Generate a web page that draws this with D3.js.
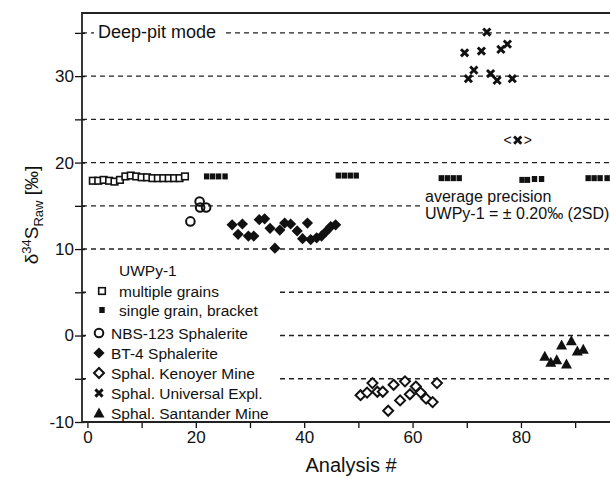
<!DOCTYPE html>
<html>
<head>
<meta charset="utf-8">
<script src="https://d3js.org/d3.v7.min.js"></script>
<style>
  body { margin: 0; background: #fff; }
  svg { font-family: "Liberation Sans", Arial, sans-serif; display: block; }
</style>
</head>
<body>
<svg width="610" height="477"></svg>
<script>
// UWPy-1 multiple grains (open squares)
var multiX = [1, 2, 3, 4, 5, 6, 7, 8, 9, 10, 11, 12, 13, 14, 15, 16, 17, 18];
var multiY = [17.9, 17.9, 18.0, 17.9, 17.8, 18.0, 18.4, 18.5, 18.4, 18.3, 18.3, 18.2, 18.2, 18.2, 18.2, 18.2, 18.2, 18.4];
// UWPy-1 single grain, bracket (filled squares)
var brackX = [22, 23.1, 24.2, 25.4, 46.3, 47.4, 48.5, 49.6, 65.3, 66.4, 67.5, 68.6, 80.2, 81.2, 82.5, 83.8, 92.4, 93.5, 94.6, 95.9];
var brackY = [18.4, 18.4, 18.4, 18.4, 18.5, 18.5, 18.5, 18.5, 18.2, 18.2, 18.2, 18.2, 18.0, 18.0, 18.1, 18.1, 18.2, 18.2, 18.2, 18.2];
// NBS-123 Sphalerite (open circles)
var nbsX = [19.0, 20.7, 20.8, 21.9];
var nbsY = [13.2, 15.5, 14.8, 14.8];
// BT-4 Sphalerite (filled diamonds)
var btX = [26.7, 28.6, 27.8, 29.7, 30.7, 31.7, 32.7, 33.7, 34.6, 35.5, 36.4, 37.5, 38.7, 39.7, 40.6, 41.2, 42.3, 43.2, 44.0, 44.9, 45.8];
var btY = [12.8, 12.9, 11.7, 11.5, 11.5, 13.4, 13.5, 12.4, 10.1, 12.2, 13.0, 12.9, 12.1, 11.2, 13.0, 11.1, 11.3, 11.5, 12.0, 12.6, 12.8];
// Sphal. Kenoyer Mine (open diamonds)
var kenX = [50.4, 51.6, 52.6, 53.5, 54.5, 55.5, 56.5, 57.7, 58.6, 59.5, 60.6, 61.5, 62.5, 63.7, 64.5];
var kenY = [-6.9, -6.6, -5.5, -6.5, -6.5, -8.7, -5.7, -7.5, -5.3, -6.8, -5.9, -6.6, -7.3, -7.7, -5.5];
// Sphal. Universal Expl. (crosses)
var uniX = [69.6, 70.3, 71.3, 72.7, 73.7, 74.4, 75.6, 76.3, 77.5, 78.4];
var uniY = [32.7, 29.7, 30.7, 32.9, 35.1, 30.3, 29.5, 33.1, 33.7, 29.7];
var uniMean = [79.4, 22.6];
// Sphal. Santander Mine (filled triangles)
var sanX = [84.4, 85.5, 86.6, 87.5, 88.4, 89.3, 90.4, 91.5];
var sanY = [-2.4, -3.1, -2.8, -1.1, -3.3, -0.6, -1.8, -1.6];

var xTicks = [0, 10, 20, 30, 40, 50, 60, 70, 80, 90];
var xLabels = [0, 20, 40, 60, 80];
var yTicks = [-10, -5, 0, 5, 10, 15, 20, 25, 30, 35];
var yLabels = [-10, 0, 10, 20, 30];
var gridVals = [-5, 0, 5, 10, 15, 20, 25, 30, 35];
var legendItems = ["multiple grains", "single grain, bracket", "NBS-123 Sphalerite", "BT-4 Sphalerite",
  "Sphal. Kenoyer Mine", "Sphal. Universal Expl.", "Sphal. Santander Mine"];
var legendShapes = ["sq", "sqf", "circ", "dia", "diao", "x", "tri"];

var plotL = 82, plotR = 612, plotT = 13, plotB = 422;
var ink = "#111";

var svg = d3.select("svg");
var x = d3.scaleLinear().domain([-1, 96.8]).range([plotL, plotR]);
var y = d3.scaleLinear().domain([-10, 37.3]).range([plotB, plotT]);

// dashed guide lines
svg.append("g").selectAll("line").data(gridVals).enter().append("line")
  .attr("x1", plotL).attr("x2", plotR)
  .attr("y1", function(d) { return y(d); }).attr("y2", function(d) { return y(d); })
  .attr("stroke", "#222").attr("stroke-width", 1.4).attr("stroke-dasharray", "5,4");

// axes
svg.append("g").attr("transform", "translate(0," + plotB + ")")
  .call(d3.axisBottom(x).tickValues(xTicks).tickSize(6).tickFormat(function(d) { return xLabels.indexOf(d) >= 0 ? d : ""; }))
  .call(function(g) {
    g.select(".domain").remove();
    g.selectAll("line").attr("stroke", ink).attr("stroke-width", 1.3);
    g.selectAll("text").attr("fill", ink).style("font-size", "17px").attr("y", 7).attr("dy", "0.85em");
  });
svg.append("g").attr("transform", "translate(" + plotL + ",0)")
  .call(d3.axisLeft(y).tickValues(yTicks).tickSize(6).tickFormat(function(d) { return yLabels.indexOf(d) >= 0 ? d : ""; }))
  .call(function(g) {
    g.select(".domain").remove();
    g.selectAll("line").attr("x2", -7).attr("x1", 3).attr("stroke", ink).attr("stroke-width", 1.3);
    g.selectAll("text").attr("fill", ink).style("font-size", "17px").attr("x", -8);
  });

// frame
svg.append("path")
  .attr("d", "M" + plotR + "," + plotT + "H" + plotL + "V" + plotB + "H" + plotR)
  .attr("fill", "none").attr("stroke", "#222").attr("stroke-width", 1.8);

// text boxes over dashed lines
svg.append("rect").attr("x", 94).attr("y", 23).attr("width", 128).attr("height", 19).attr("fill", "#fff");
svg.append("text").attr("x", 98).attr("y", 38).attr("fill", ink).style("font-size", "18px").text("Deep-pit mode");

svg.append("rect").attr("x", 421).attr("y", 187).attr("width", 189).attr("height", 34).attr("fill", "#fff");
svg.append("text").attr("x", 425).attr("y", 202).attr("fill", ink).style("font-size", "16px").text("average precision");
svg.append("text").attr("x", 425).attr("y", 219).attr("fill", ink).style("font-size", "16px").text("UWPy-1 = \u00b1 0.20\u2030 (2SD)");

// marker drawing
function crossPath(s) {
  return "M" + (-s) + "," + (-s) + "L" + s + "," + s + "M" + (-s) + "," + s + "L" + s + "," + (-s);
}
function drawMarker(g, type) {
  if (type === "sq") g.append("rect").attr("x", -3.3).attr("y", -3.3).attr("width", 6.6).attr("height", 6.6)
    .attr("fill", "#fff").attr("stroke", ink).attr("stroke-width", 1.6);
  if (type === "sqf") g.append("rect").attr("x", -2.7).attr("y", -3).attr("width", 5.4).attr("height", 6).attr("fill", ink);
  if (type === "circ") g.append("circle").attr("r", 4.3).attr("fill", "none").attr("stroke", ink).attr("stroke-width", 2);
  if (type === "dia") g.append("path").attr("d", "M0,-5.6L5.6,0L0,5.6L-5.6,0Z").attr("fill", ink);
  if (type === "diao") g.append("path").attr("d", "M0,-5L5,0L0,5L-5,0Z").attr("fill", "#fff").attr("stroke", ink).attr("stroke-width", 2);
  if (type === "x") g.append("path").attr("d", crossPath(3.6)).attr("stroke", ink).attr("stroke-width", 2.9);
  if (type === "tri") g.append("path").attr("d", "M0,-5.5L5.5,4.5L-5.5,4.5Z").attr("fill", ink);
}
function series(xs, ys, type) {
  svg.append("g").selectAll("g").data(xs).enter().append("g")
    .attr("transform", function(d, i) { return "translate(" + x(d) + "," + y(ys[i]) + ")"; })
    .each(function() { drawMarker(d3.select(this), type); });
}
series(multiX, multiY, "sq");
series(brackX, brackY, "sqf");
series(nbsX, nbsY, "circ");
series(btX, btY, "dia");
series(kenX, kenY, "diao");
series(uniX, uniY, "x");
series(sanX, sanY, "tri");

// mean marker <x>
var mg = svg.append("g").attr("transform", "translate(" + x(uniMean[0]) + "," + y(uniMean[1]) + ")");
drawMarker(mg, "x");
mg.append("text").attr("x", -6).attr("y", 5).attr("text-anchor", "end").style("font-size", "14px").attr("fill", ink).text("<");
mg.append("text").attr("x", 6).attr("y", 5).style("font-size", "14px").attr("fill", ink).text(">");

// legend
svg.append("rect").attr("x", 86).attr("y", 258).attr("width", 194).attr("height", 162).attr("fill", "#fff");
svg.append("text").attr("x", 119).attr("y", 276).attr("fill", ink).style("font-size", "15.5px").text("UWPy-1");
var legY = [291, 310, 333, 353, 373, 393, 413];
legendItems.forEach(function(t, i) {
  var mx = i < 2 ? 102 : 99;
  var tx = i < 2 ? 119 : 111;
  drawMarker(svg.append("g").attr("transform", "translate(" + mx + "," + legY[i] + ")"), legendShapes[i]);
  svg.append("text").attr("x", tx).attr("y", legY[i] + 5.5).attr("fill", ink).style("font-size", "15.5px").text(t);
});

// axis titles
svg.append("text").attr("x", 351).attr("y", 472).attr("text-anchor", "middle")
  .attr("fill", ink).style("font-size", "20px").text("Analysis #");
var yt = svg.append("text").attr("transform", "translate(38,215) rotate(-90)").attr("text-anchor", "middle")
  .attr("fill", ink).style("font-size", "19px");
yt.append("tspan").text("\u03b4");
yt.append("tspan").attr("dy", -7).style("font-size", "13px").text("34");
yt.append("tspan").attr("dy", 7).text("S");
yt.append("tspan").attr("dy", 5).style("font-size", "13px").text("Raw");
yt.append("tspan").attr("dy", -5).text(" [\u2030]");
</script>
</body>
</html>
